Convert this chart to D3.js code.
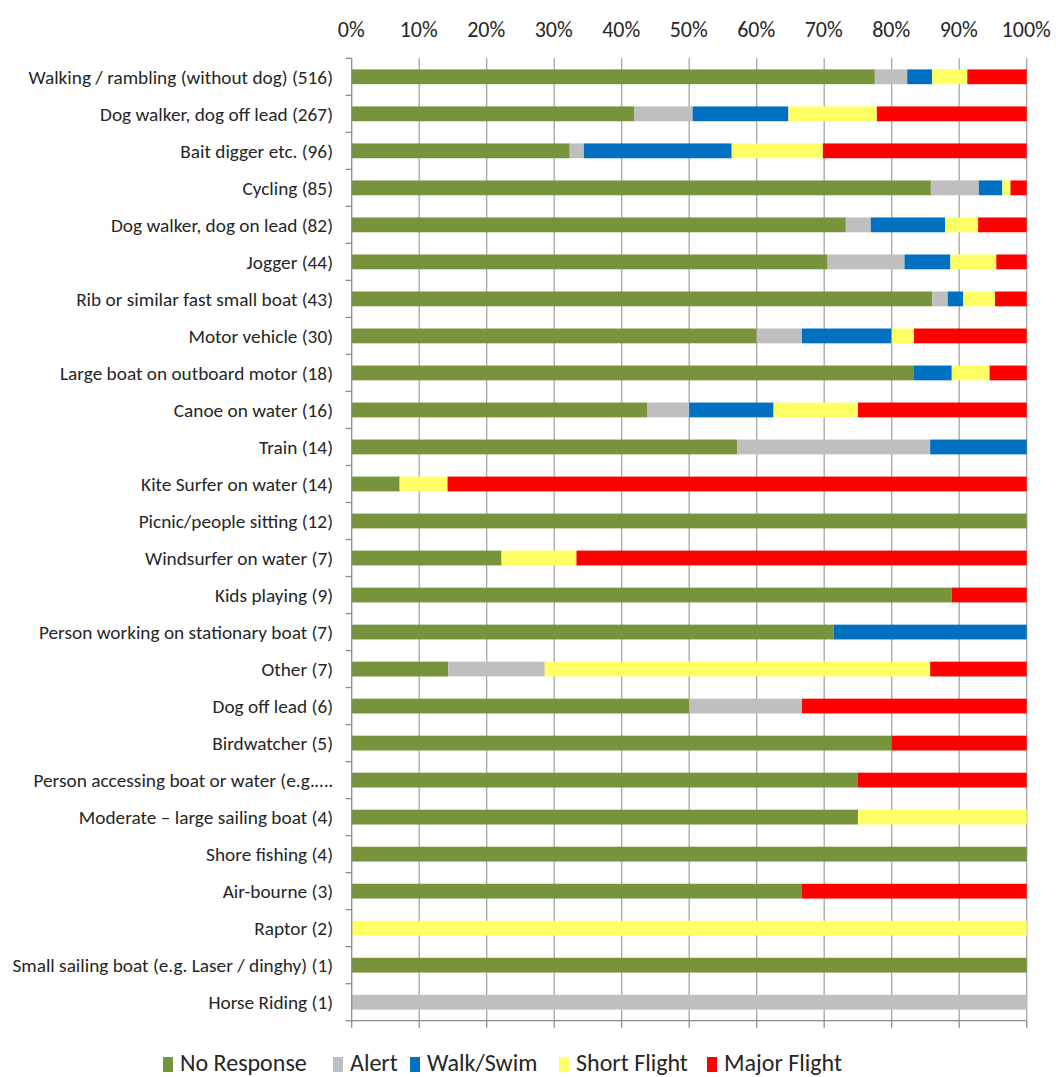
<!DOCTYPE html>
<html>
<head>
<meta charset="utf-8">
<script src="https://cdn.jsdelivr.net/npm/d3@7"></script>
<style>
  html, body { margin: 0; padding: 0; background: #fff; }
  svg { display: block; font-family: Carlito, Calibri, Lato, "Liberation Sans", sans-serif; }
</style>
</head>
<body>
<svg id="chart" width="1056" height="1077"></svg>
<script>
// Disturbance source categories (number of events in brackets)
const categories = [
  "Walking / rambling (without dog) (516)",
  "Dog walker, dog off lead (267)",
  "Bait digger etc. (96)",
  "Cycling (85)",
  "Dog walker, dog on lead (82)",
  "Jogger (44)",
  "Rib or similar fast small boat (43)",
  "Motor vehicle (30)",
  "Large boat on outboard motor (18)",
  "Canoe on water (16)",
  "Train (14)",
  "Kite Surfer on water (14)",
  "Picnic/people sitting (12)",
  "Windsurfer on water (7)",
  "Kids playing (9)",
  "Person working on stationary boat (7)",
  "Other (7)",
  "Dog off lead (6)",
  "Birdwatcher (5)",
  "Person accessing boat or water (e.g.\u2026.",
  "Moderate \u2013 large sailing boat (4)",
  "Shore fishing (4)",
  "Air-bourne (3)",
  "Raptor (2)",
  "Small sailing boat (e.g. Laser / dinghy) (1)",
  "Horse Riding (1)"
];

// Response shares (% of events) per category, one array per response type
const noResponse  = [77.5, 41.9, 32.3, 85.8, 73.2, 70.5, 86.0, 60.0, 83.3, 43.75, 57.1, 7.1, 100, 22.2, 88.9, 71.4, 14.3, 50.0, 80, 75, 75, 100, 66.7, 0, 100, 0];
const alert       = [4.8, 8.6, 2.1, 7.1, 3.7, 11.4, 2.3, 6.7, 0, 6.25, 28.6, 0, 0, 0, 0, 0, 14.3, 16.7, 0, 0, 0, 0, 0, 0, 0, 100];
const walkSwim    = [3.7, 14.2, 21.9, 3.5, 11.0, 6.8, 2.3, 13.3, 5.6, 12.5, 14.3, 0, 0, 0, 0, 28.6, 0, 0, 0, 0, 0, 0, 0, 0, 0, 0];
const shortFlight = [5.2, 13.1, 13.5, 1.2, 4.9, 6.8, 4.7, 3.3, 5.6, 12.5, 0, 7.1, 0, 11.1, 0, 0, 57.1, 0, 0, 0, 25, 0, 0, 100, 0, 0];
const majorFlight = [8.8, 22.2, 30.2, 2.4, 7.2, 4.5, 4.7, 16.7, 5.5, 25.0, 0, 85.8, 0, 66.7, 11.1, 0, 14.3, 33.3, 20, 25, 0, 0, 33.3, 0, 0, 0];

const seriesNames = ["No Response", "Alert", "Walk/Swim", "Short Flight", "Major Flight"];
const seriesColors = ["#77933C", "#BFBFBF", "#0070C0", "#FFFF66", "#FF0000"];
const tickValues = [0, 10, 20, 30, 40, 50, 60, 70, 80, 90, 100];

(function draw() {
  const keys = ["noResponse", "alert", "walkSwim", "shortFlight", "majorFlight"];
  const seriesArrays = [noResponse, alert, walkSwim, shortFlight, majorFlight];
  const rows = categories.map((c, i) => {
    const r = { category: c };
    keys.forEach((k, j) => { r[k] = seriesArrays[j][i]; });
    return r;
  });

  const svg = d3.select("#chart");
  const plotLeft = 351.7, plotRight = 1026.7, plotTop = 58.3, plotBottom = 1020.7;
  const axisColor = "#8c8c8c";
  const textColor = "#262626";

  const x = d3.scaleLinear().domain([0, 100]).range([plotLeft, plotRight]);
  const y = d3.scaleBand().domain(categories).range([plotTop, plotBottom])
    .paddingInner(0.6).paddingOuter(0.3);

  // vertical gridlines
  svg.append("g").selectAll("line")
    .data(tickValues.slice(1))
    .join("line")
    .attr("x1", d => x(d)).attr("x2", d => x(d))
    .attr("y1", plotTop).attr("y2", plotBottom)
    .attr("stroke", "#a6a6a6").attr("stroke-width", 1.3);

  // stacked bars
  const stacked = d3.stack().keys(keys)(rows);
  svg.append("g").selectAll("g")
    .data(stacked)
    .join("g")
    .attr("fill", (d, i) => seriesColors[i])
    .selectAll("rect")
    .data(d => d.filter(s => s[1] - s[0] > 0))
    .join("rect")
    .attr("x", d => x(d[0]))
    .attr("width", d => x(d[1]) - x(d[0]))
    .attr("y", d => y(d.data.category))
    .attr("height", y.bandwidth());

  // left category axis with ticks between categories
  const boundaries = d3.range(categories.length + 1).map(i => plotTop + i * y.step());
  svg.append("line")
    .attr("x1", plotLeft).attr("x2", plotLeft).attr("y1", plotTop).attr("y2", plotBottom)
    .attr("stroke", axisColor).attr("stroke-width", 1.3);
  svg.append("g").selectAll("line")
    .data(boundaries)
    .join("line")
    .attr("x1", plotLeft - 6).attr("x2", plotLeft)
    .attr("y1", d => d).attr("y2", d => d)
    .attr("stroke", axisColor).attr("stroke-width", 1.3);

  // bottom value axis line with downward ticks
  svg.append("line")
    .attr("x1", plotLeft).attr("x2", plotRight).attr("y1", plotBottom).attr("y2", plotBottom)
    .attr("stroke", axisColor).attr("stroke-width", 1.3);
  svg.append("g").selectAll("line")
    .data(tickValues)
    .join("line")
    .attr("x1", d => x(d)).attr("x2", d => x(d))
    .attr("y1", plotBottom).attr("y2", plotBottom + 7)
    .attr("stroke", axisColor).attr("stroke-width", 1.3);

  // percentage labels along the top
  const topAxis = d3.axisTop(x).tickValues(tickValues).tickSize(0).tickPadding(0)
    .tickFormat(d => d + "%");
  const gTop = svg.append("g").attr("transform", "translate(-1,37)").call(topAxis);
  gTop.select(".domain").remove();
  gTop.attr("font-family", null).attr("font-size", null);
  gTop.selectAll("text")
    .attr("font-size", 22).attr("fill", textColor).attr("dy", 0);

  // category labels
  svg.append("g").selectAll("text")
    .data(categories)
    .join("text")
    .attr("x", 333)
    .attr("y", d => y(d) + y.bandwidth() / 2)
    .attr("dy", "0.35em")
    .attr("text-anchor", "end")
    .attr("font-size", 19.3)
    .attr("fill", textColor)
    .text(d => d);

  // legend
  const legendX = [163, 333, 410, 559, 707];
  const legend = svg.append("g");
  seriesNames.forEach((name, i) => {
    legend.append("rect")
      .attr("x", legendX[i]).attr("y", 1057)
      .attr("width", 10).attr("height", 15)
      .attr("fill", seriesColors[i]);
    legend.append("text")
      .attr("x", legendX[i] + 17).attr("y", 1071)
      .attr("font-size", 24).attr("fill", textColor)
      .text(name);
  });
})();
</script>
</body>
</html>
